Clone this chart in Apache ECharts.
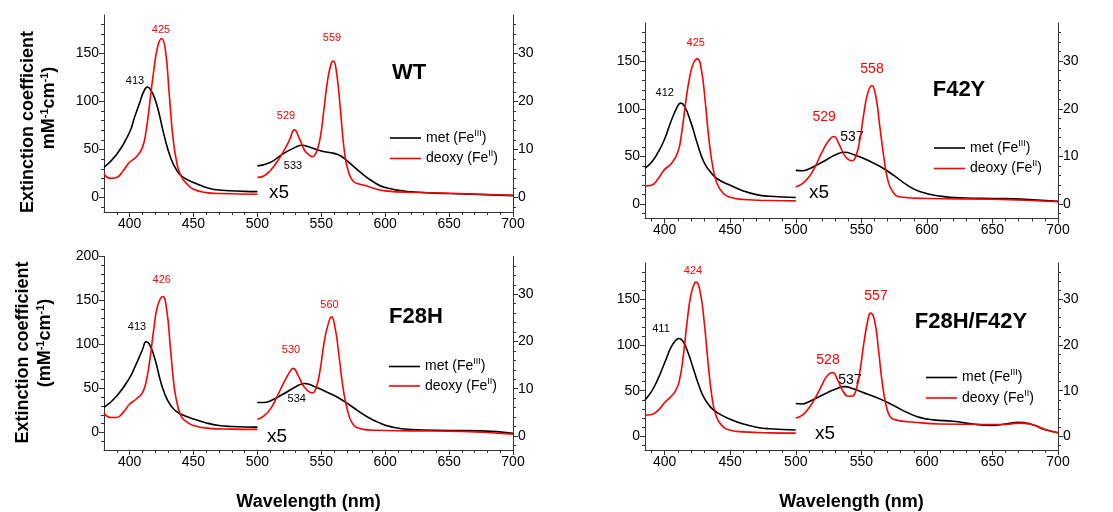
<!DOCTYPE html>
<html>
<head>
<meta charset="utf-8">
<script src="https://cdn.jsdelivr.net/npm/echarts@6/dist/echarts.min.js"></script>
<style>
html, body { margin: 0; padding: 0; background: #fff; }
#chart { width: 1113px; height: 512px; }
</style>
</head>
<body>
<div id="chart"></div>
<script>
// values; left part (380-500 nm) in mM-1cm-1, right part (500-700 nm) is the x5 scale

// WT
var wtMetWlA = [380, 390, 400, 404, 408, 411, 414, 417, 420, 423, 427, 432, 437, 442, 452, 462, 472, 490, 500];
var wtMetA = [31.5, 45, 68, 84, 99, 110, 115, 111, 102, 88, 65, 42, 28, 21, 14.7, 9.8, 7.7, 6.5, 6.2];
var wtDeoxyWlA = [380, 385, 390, 395, 400, 405, 410, 413, 416, 419, 422, 425, 428, 431, 434, 437, 440, 445, 450, 460, 470, 500];
var wtDeoxyA = [24.5, 20, 21, 28, 36.7, 42, 52, 70, 101, 133, 157, 165.5, 154, 108, 62, 36, 23, 14, 8.7, 5.2, 4.2, 3.5];
var wtMetWlB = [500, 510, 520, 530, 535, 540, 550, 560, 565, 570, 580, 590, 600, 620, 650, 700];
var wtMetB = [6.6, 7.3, 9.1, 10.5, 10.9, 10.6, 9.7, 9.2, 8.7, 7.7, 5.4, 3.4, 2.1, 1.2, 0.85, 0.4];
var wtDeoxyWlB = [500, 505, 510, 515, 520, 525, 529, 533, 537, 540, 543, 546, 549, 552, 555, 558, 559.5, 562, 565, 568, 571, 575, 580, 585, 590, 600, 625, 650, 700];
var wtDeoxyB = [4.2, 4.5, 5.6, 7.3, 9.4, 11.9, 14.1, 12.2, 9.8, 9.0, 8.5, 9.4, 12.2, 18.2, 24.5, 28.1, 28.4, 25.9, 18.2, 9.8, 5.6, 3.4, 2.8, 2.45, 2.0, 1.4, 1.05, 0.9, 0.5];

// F28H
var f28MetWlA = [380, 390, 400, 405, 410, 413, 416, 420, 425, 430, 435, 440, 450, 460, 470, 480, 500];
var f28MetA = [28.4, 41.4, 62, 77, 93.7, 103, 99, 82.5, 54.5, 35.8, 25.7, 21, 15.3, 10.8, 7.8, 6.7, 6];
var f28DeoxyWlA = [380, 385, 390, 395, 400, 405, 410, 413, 416, 419, 422, 426, 429, 432, 435, 438, 441, 445, 450, 460, 480, 500];
var f28DeoxyA = [22, 17, 17, 22.8, 32, 37.7, 45, 58, 84, 118, 144, 154.5, 140, 95.5, 50.7, 28, 17, 11.6, 7.8, 4.9, 3.7, 3.4];
var f28MetWlB = [500, 505, 510, 520, 530, 537, 545, 555, 565, 575, 585, 595, 605, 620, 650, 675, 700];
var f28MetB = [7.06, 7.06, 7.4, 8.8, 10.4, 11.1, 10.4, 9.2, 7.8, 6.0, 4.2, 2.8, 1.9, 1.34, 1.13, 1.06, 0.56];
var f28DeoxyWlB = [500, 505, 510, 515, 520, 525, 528, 532, 536, 540, 543, 546, 549, 552, 555, 558, 561, 564, 567, 570, 574, 580, 590, 620, 660, 700];
var f28DeoxyB = [3.5, 4.2, 5.6, 8.1, 10.9, 13.4, 14.3, 12.7, 10.6, 9.4, 9.1, 10.2, 13.8, 19.4, 23.3, 25.2, 22.6, 16.6, 10.2, 6.0, 2.8, 1.55, 1.2, 1.06, 0.92, 0.35];

// F42Y
var f42MetWlA = [385, 390, 395, 400, 405, 410, 412, 415, 420, 425, 430, 435, 440, 450, 460, 470, 480, 500];
var f42MetA = [37.8, 44, 54.5, 68.4, 87.5, 103, 106, 103, 85.8, 63.2, 44, 33.7, 26.7, 19.8, 13.9, 10, 8.3, 7];
var f42DeoxyWlA = [385, 390, 395, 400, 405, 410, 413, 416, 419, 422, 425, 428, 431, 434, 437, 440, 445, 450, 460, 480, 500];
var f42DeoxyA = [19, 19.8, 26.7, 36.5, 42.4, 54.5, 75, 106.6, 132.6, 148, 152.4, 141, 106.6, 65, 37, 21.5, 11, 7.3, 4.9, 3.8, 3.5];
var f42MetWlB = [500, 505, 510, 520, 530, 537, 545, 555, 565, 575, 585, 595, 610, 630, 650, 675, 700];
var f42MetB = [7.1, 7.0, 7.4, 8.8, 10.3, 10.9, 10.3, 9.2, 7.8, 6.0, 4.0, 2.6, 1.7, 1.3, 1.2, 1.04, 0.6];
var f42DeoxyWlB = [500, 505, 510, 515, 520, 525, 529, 533, 537, 540, 543, 546, 549, 552, 555, 558, 561, 564, 567, 570, 574, 580, 600, 650, 700];
var f42DeoxyB = [3.6, 4.3, 5.7, 8.0, 10.9, 13.3, 14.2, 12.6, 10.3, 9.4, 9.1, 10.2, 13.7, 19.2, 23.4, 24.9, 22.7, 16.5, 10.2, 5.3, 2.6, 1.5, 1.2, 1.04, 0.5];

// F28H/F42Y
var dblMetWlA = [385, 390, 395, 400, 405, 409, 411, 414, 418, 422, 426, 430, 435, 440, 450, 460, 470, 480, 500];
var dblMetA = [40, 49.3, 63.2, 80.6, 98, 106, 107.3, 104, 91, 73.6, 56.2, 42.4, 32, 26, 18.8, 13.5, 10, 8.3, 7];
var dblDeoxyWlA = [385, 390, 395, 400, 405, 408, 411, 414, 417, 420, 423, 424, 427, 430, 433, 436, 439, 443, 450, 460, 480, 500];
var dblDeoxyA = [23.3, 24, 28.5, 37, 44, 49.3, 59.7, 85.8, 124, 155, 168.4, 169, 158.7, 127.4, 82.3, 44, 23.3, 12.8, 6.6, 4.9, 3.8, 3.5];
var dblMetWlB = [500, 505, 510, 520, 530, 537, 545, 555, 565, 575, 585, 595, 605, 620, 635, 650, 660, 670, 680, 690, 700];
var dblMetB = [7.2, 7.1, 7.6, 9.0, 10.3, 10.9, 10.3, 9.2, 8.1, 6.7, 5.2, 4.1, 3.6, 3.3, 2.7, 2.4, 2.7, 3.1, 2.6, 1.5, 0.8];
var dblDeoxyWlB = [500, 505, 510, 515, 520, 524, 528, 532, 536, 540, 543, 546, 549, 552, 555, 557, 560, 563, 566, 569, 572, 576, 590, 610, 640, 660, 670, 680, 690, 700];
var dblDeoxyB = [4.0, 4.65, 6.2, 8.5, 11.3, 13.3, 14.0, 12.3, 9.9, 8.8, 8.8, 10.2, 14.4, 20.6, 25.5, 27, 25.5, 19.2, 11.6, 6.7, 4.3, 3.6, 3.1, 2.7, 2.6, 2.6, 2.9, 2.6, 1.5, 0.8];

// axis tick values
var xMajor = [400, 450, 500, 550, 600, 650, 700];
var yLeftMajor = [0, 50, 100, 150];
var yLeftMajorF28 = [0, 50, 100, 150, 200];
var yRightMajor = [0, 10, 20, 30];

var FONT = '"Liberation Sans", Arial, Helvetica, sans-serif';
var AX = '#333';
var BLACK = '#000000';
var RED = '#ff0000';

function steps(a, b, s) {
  var out = [];
  for (var v = a; v <= b + 1e-9; v += s) out.push(Math.round(v * 100) / 100);
  return out;
}

function pairs(wl, vals) {
  return wl.map(function (w, i) { return [w, vals[i]]; });
}

var panels = [
  { grid: { left: 104, top: 15, width: 409, height: 197 }, xMin: 380, yL: [-15, 190], yLTicks: yLeftMajor, yR: [-3, 38],
    met: [wtMetWlA, wtMetA, wtMetWlB, wtMetB], deoxy: [wtDeoxyWlA, wtDeoxyA, wtDeoxyWlB, wtDeoxyB],
    legend: { left: 390, top: 129, gap: 4.5 }, xName: '' },
  { grid: { left: 104, top: 256.5, width: 409, height: 197 }, xMin: 380, yL: [-20, 200], yLTicks: yLeftMajorF28, yR: [-3, 38],
    met: [f28MetWlA, f28MetA, f28MetWlB, f28MetB], deoxy: [f28DeoxyWlA, f28DeoxyA, f28DeoxyWlB, f28DeoxyB],
    legend: { left: 389, top: 357.5, gap: 3.5 }, xName: 'Wavelength (nm)' },
  { grid: { left: 645, top: 23, width: 413, height: 195.5 }, xMin: 385, yL: [-15, 190], yLTicks: yLeftMajor, yR: [-3, 38],
    met: [f42MetWlA, f42MetA, f42MetWlB, f42MetB], deoxy: [f42DeoxyWlA, f42DeoxyA, f42DeoxyWlB, f42DeoxyB],
    legend: { left: 934, top: 139, gap: 4.5 }, xName: '' },
  { grid: { left: 645, top: 263, width: 413, height: 195 }, xMin: 385, yL: [-15, 190], yLTicks: yLeftMajor, yR: [-3, 38],
    met: [dblMetWlA, dblMetA, dblMetWlB, dblMetB], deoxy: [dblDeoxyWlA, dblDeoxyA, dblDeoxyWlB, dblDeoxyB],
    legend: { left: 926, top: 368.5, gap: 4.5 }, xName: 'Wavelength (nm)' }
];

var grids = [], xAxes = [], yAxes = [], series = [], legends = [];

panels.forEach(function (p, i) {
  grids.push(p.grid);
  // main x axis + minor tick axis
  xAxes.push({
    type: 'value', gridIndex: i, position: 'bottom', min: p.xMin, max: 700,
    name: p.xName, nameLocation: 'middle', nameGap: 43,
    nameTextStyle: { fontFamily: FONT, fontSize: 18, fontWeight: 'bold', color: '#000' },
    axisLine: { show: true, onZero: false, lineStyle: { color: AX, width: 1 } },
    axisTick: { show: true, length: 5, customValues: xMajor, lineStyle: { color: AX } },
    axisLabel: { customValues: xMajor, fontFamily: FONT, fontSize: 14, color: '#000', margin: 5 },
    splitLine: { show: false }
  });
  xAxes.push({
    type: 'value', gridIndex: i, position: 'bottom', min: p.xMin, max: 700,
    axisLine: { show: false, onZero: false },
    axisTick: { show: true, length: 3, customValues: steps(390, 690, 10), lineStyle: { color: AX } },
    axisLabel: { show: false }, splitLine: { show: false }
  });
  var leftMinor = steps(-10, p.yL[1] - 1, 10);
  yAxes.push({
    type: 'value', gridIndex: i, position: 'left', min: p.yL[0], max: p.yL[1],
    axisLine: { show: true, onZero: false, lineStyle: { color: AX, width: 1 } },
    axisTick: { show: true, length: 5, customValues: p.yLTicks, lineStyle: { color: AX } },
    axisLabel: { customValues: p.yLTicks, fontFamily: FONT, fontSize: 14, color: '#000', margin: 5 },
    splitLine: { show: false }
  });
  yAxes.push({
    type: 'value', gridIndex: i, position: 'right', min: p.yR[0], max: p.yR[1],
    axisLine: { show: true, onZero: false, lineStyle: { color: AX, width: 1 } },
    axisTick: { show: true, length: 5, customValues: yRightMajor, lineStyle: { color: AX } },
    axisLabel: { customValues: yRightMajor, fontFamily: FONT, fontSize: 14, color: '#000', margin: 5 },
    splitLine: { show: false }
  });
  yAxes.push({
    type: 'value', gridIndex: i, position: 'left', min: p.yL[0], max: p.yL[1],
    axisLine: { show: false, onZero: false },
    axisTick: { show: true, length: 3, customValues: leftMinor, lineStyle: { color: AX } },
    axisLabel: { show: false }, splitLine: { show: false }
  });
  yAxes.push({
    type: 'value', gridIndex: i, position: 'right', min: p.yR[0], max: p.yR[1],
    axisLine: { show: false, onZero: false },
    axisTick: { show: true, length: 3, customValues: steps(-2, 36, 2), lineStyle: { color: AX } },
    axisLabel: { show: false }, splitLine: { show: false }
  });

  var xi = i * 2, yl = i * 4, yr = i * 4 + 1;
  function line(name, color, wl, vals, yIdx) {
    return {
      type: 'line', name: name, xAxisIndex: xi, yAxisIndex: yIdx,
      data: pairs(wl, vals), symbol: 'none', showSymbol: false,
      smooth: 0.5, clip: true, silent: true,
      lineStyle: { color: color, width: 1.6 }, itemStyle: { color: color }
    };
  }
  series.push(line('met', BLACK, p.met[0], p.met[1], yl));
  series.push(line('deoxy', RED, p.deoxy[0], p.deoxy[1], yl));
  series.push(line('met', BLACK, p.met[2], p.met[3], yr));
  series.push(line('deoxy', RED, p.deoxy[2], p.deoxy[3], yr));

  legends.push({
    data: ['met', 'deoxy'], orient: 'vertical', left: p.legend.left, top: p.legend.top,
    icon: 'rect', itemWidth: 31, itemHeight: 1.6, itemGap: p.legend.gap, padding: 0, selectedMode: false,
    formatter: function (n) {
      return n === 'met' ? '{t|met (Fe}{s|III}{t|)}' : '{t|deoxy (Fe}{s|II}{t|)}';
    },
    textStyle: {
      rich: {
        t: { fontFamily: FONT, fontSize: 14, color: '#000', lineHeight: 18 },
        s: { fontFamily: FONT, fontSize: 9, color: '#000', verticalAlign: 'top' }
      }
    }
  });
});

// peak labels, panel titles, "x5" marks: [text, x, y, fontSize, color, bold]
var notes = [
  ['413', 135, 81, 11, BLACK], ['425', 161, 30, 11, RED], ['529', 286, 116, 11, RED], ['559', 332, 37.5, 11, RED], ['533', 293, 166, 11, BLACK],
  ['413', 137, 327, 11, BLACK], ['426', 161.7, 280, 11, RED], ['530', 291, 349.7, 11, RED], ['560', 329.5, 305, 11, RED], ['534', 296.7, 399, 11, BLACK],
  ['412', 664.7, 92.8, 11, BLACK], ['425', 695.8, 42.8, 11, RED], ['529', 824.2, 117, 14, RED], ['558', 872, 68.7, 14, RED], ['537', 852, 137.5, 14, BLACK],
  ['411', 661, 329, 11, BLACK], ['424', 693, 271, 11, RED], ['528', 828, 359.7, 14, RED], ['557', 876, 296, 14, RED], ['537', 850, 379.7, 14, BLACK],
  ['WT', 409, 72.5, 22, BLACK, true], ['F28H', 416, 316.7, 22, BLACK, true], ['F42Y', 959, 90, 22, BLACK, true], ['F28H/F42Y', 971, 321.7, 22, BLACK, true],
  ['x5', 279, 193, 19, BLACK], ['x5', 277, 437, 19, BLACK], ['x5', 819, 193, 19, BLACK], ['x5', 825, 434, 19, BLACK]
];

var graphics = notes.map(function (n) {
  return {
    type: 'text', x: n[1], y: n[2], silent: true,
    style: {
      text: n[0], fill: n[4], fontFamily: FONT, fontSize: n[3], fontWeight: n[5] ? 'bold' : 'normal',
      align: 'center', verticalAlign: 'middle', textAlign: 'center', textVerticalAlign: 'middle'
    }
  };
});

// rotated y-axis titles
var titleRich = {
  b: { fontFamily: FONT, fontSize: 18, fontWeight: 'bold', color: '#000', lineHeight: 20 },
  s: { fontFamily: FONT, fontSize: 11, fontWeight: 'bold', color: '#000', verticalAlign: 'top' }
};
function yTitle(text, x, y) {
  return {
    type: 'text', x: x, y: y, rotation: Math.PI / 2, silent: true,
    style: { text: text, rich: titleRich, align: 'center', verticalAlign: 'middle', textAlign: 'center', textVerticalAlign: 'middle' }
  };
}
graphics.push(yTitle('{b|Extinction coefficient}', 28, 122));
graphics.push(yTitle('{b|mM}{s|-1}{b|cm}{s|-1}{b|)}', 49, 108));
graphics.push(yTitle('{b|Extinction coefficient}', 23, 352.5));
graphics.push(yTitle('{b|(mM}{s|-1}{b|cm}{s|-1}{b|)}', 45, 343));

var chart = echarts.init(document.getElementById('chart'), null, { renderer: 'canvas' });
chart.setOption({
  backgroundColor: '#ffffff',
  animation: false,
  grid: grids,
  xAxis: xAxes,
  yAxis: yAxes,
  legend: legends,
  series: series,
  graphic: graphics
});
</script>
</body>
</html>
